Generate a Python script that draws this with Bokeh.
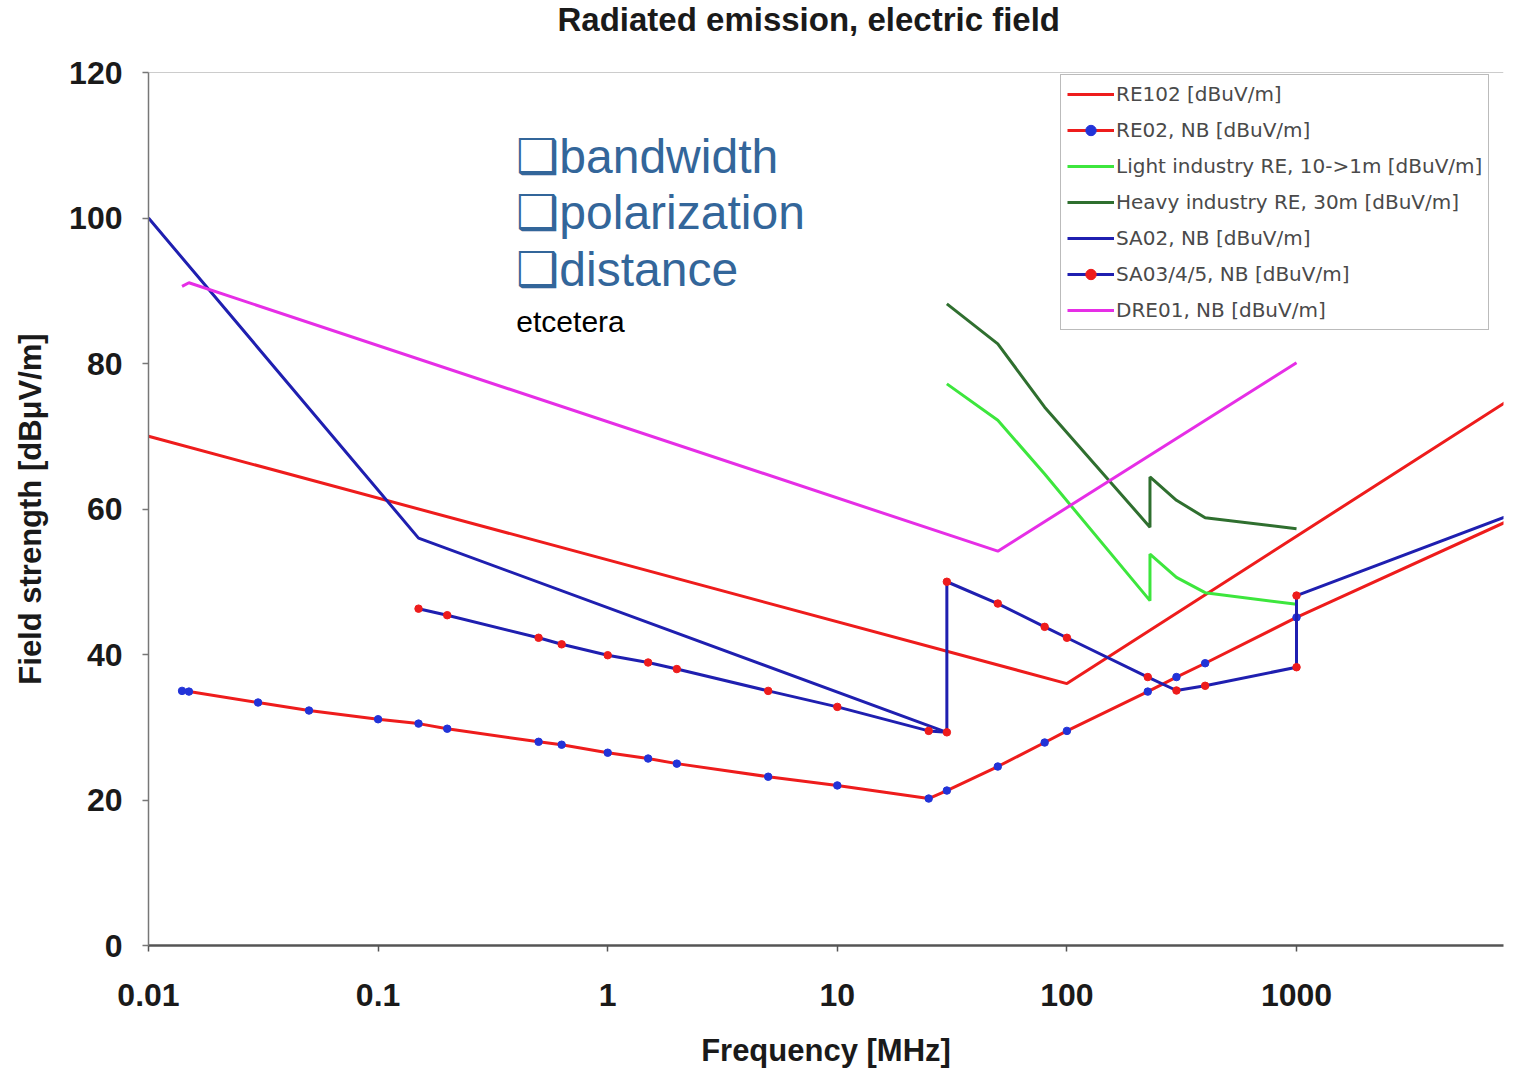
from bokeh.plotting import figure
from bokeh.models import Range1d, FixedTicker, CustomJSTickFormatter, Label, Legend, LegendItem, Span
from bokeh.embed import file_html
from bokeh.resources import INLINE

# ---- data (frequency in MHz, level in dBuV/m) ----
re102_f = [0.01, 100, 10000]
re102_v = [70, 36, 76.5]

re02_f = [0.014, 0.015, 0.03, 0.05, 0.1, 0.15, 0.2, 0.5, 0.63, 1, 1.5, 2, 5, 10, 25,
          30, 50, 80, 100, 225, 300, 400, 1000, 10000]
re02_v = [35.0, 34.9, 33.4, 32.3, 31.1, 30.5, 29.8, 28.0, 27.6, 26.5, 25.7, 25.0, 23.2, 22.0, 20.2,
          21.3, 24.6, 27.9, 29.5, 34.9, 36.9, 38.8, 45.1, 59.5]

light_f = [30, 50, 80, 230, 230, 300, 400, 1000]
light_v = [77.2, 72.2, 64.8, 47.4, 53.8, 50.6, 48.5, 46.9]

heavy_f = [30, 50, 80, 230, 230, 300, 400, 1000]
heavy_v = [88.2, 82.7, 74.0, 57.5, 64.4, 61.2, 58.8, 57.3]

sa02_f = [0.01, 0.15, 30]
sa02_v = [100, 56, 29.3]

sa03_f = [0.15, 0.2, 0.5, 0.63, 1, 1.5, 2, 5, 10, 25, 30,
          30, 50, 80, 100, 225, 300, 400, 1000, 1000, 10000]
sa03_v = [46.3, 45.4, 42.3, 41.4, 39.9, 38.9, 38.0, 35.0, 32.8, 29.5, 29.3,
          50.0, 47.0, 43.8, 42.3, 36.9, 35.05, 35.7, 38.25, 48.1, 60.0]

dre01_f = [0.014, 0.015, 50, 1000]
dre01_v = [90.6, 91.1, 54.2, 80.1]

y_ticks = [0, 20, 40, 60, 80, 100, 120]
x_ticks = [0.01, 0.1, 1, 10, 100, 1000, 10000]

title_text = "Radiated emission, electric field"
notes = ["\u2751bandwidth", "\u2751polarization", "\u2751distance"]

RED = "#EE1C1C"
BLUE = "#1F1FB0"
MBLUE = "#2233D8"
MAG = "#E62EE6"
LGREEN = "#3DE63D"
DGREEN = "#2F6F2F"

p = figure(width=1506, height=1070, x_axis_type="log",
           x_range=Range1d(0.01, 7970), y_range=Range1d(0, 120),
           output_backend="svg", toolbar_location=None,
           min_border_left=148, min_border_right=3, min_border_top=72, min_border_bottom=125,
           title=title_text + "\n ")

p.title.text_font = "Liberation Sans"
p.title.text_font_size = "33px"
p.title.text_font_style = "bold"
p.title.text_color = "#1a1a1a"
p.title.text_line_height = 0.9
p.title.align = "left"
p.title.vertical_align = "top"
p.title.offset = 409
p.title.standoff = 0

p.grid.visible = False
p.outline_line_color = None
p.background_fill_color = "white"
p.border_fill_color = "white"
p.add_layout(Span(location=120, dimension="width", line_color="#999999", line_width=1.2))

# axes
p.xaxis.ticker = FixedTicker(ticks=x_ticks)
p.xaxis.formatter = CustomJSTickFormatter(code="""
const e = Math.round(Math.log10(tick));
return e >= 0 ? String(Math.round(Math.pow(10, e))) : Math.pow(10, e).toFixed(-e);
""")
p.yaxis.ticker = FixedTicker(ticks=y_ticks)
for ax in (p.xaxis[0], p.yaxis[0]):
    ax.minor_tick_line_color = None
    ax.major_tick_out = 6
    ax.major_tick_in = 0
    ax.major_label_text_font = "Liberation Sans"
    ax.major_label_text_font_size = "32px"
    ax.major_label_text_font_style = "bold"
    ax.major_label_text_color = "#1a1a1a"
    ax.axis_label_text_font = "Liberation Sans"
    ax.axis_label_text_font_size = "31px"
    ax.axis_label_text_font_style = "bold"
    ax.axis_label_text_color = "#1a1a1a"
p.xaxis.axis_line_color = "#555555"
p.xaxis.axis_line_width = 2.5
p.xaxis.major_tick_line_color = "#555555"
p.xaxis.major_tick_line_width = 1.5
p.xaxis.major_label_standoff = 32
p.xaxis.axis_label_standoff = 24
p.xaxis.axis_label = "Frequency [MHz]"

p.yaxis.axis_line_color = "#777777"
p.yaxis.axis_line_width = 1.5
p.yaxis.major_tick_line_color = "#777777"
p.yaxis.major_tick_line_width = 1.5
p.yaxis.major_label_standoff = 20
p.yaxis.axis_label_standoff = 18
p.yaxis.axis_label = "Field strength [dB\u03bcV/m]"

LW = 3
r_re102 = p.line(re102_f, re102_v, line_color=RED, line_width=LW)
r_re02 = p.line(re02_f, re02_v, line_color=RED, line_width=LW)
r_re02m = p.scatter(re02_f, re02_v, marker="circle", size=7.5, fill_color=MBLUE, line_color=MBLUE)
r_light = p.line(light_f, light_v, line_color=LGREEN, line_width=LW)
r_heavy = p.line(heavy_f, heavy_v, line_color=DGREEN, line_width=LW)
r_sa02 = p.line(sa02_f, sa02_v, line_color=BLUE, line_width=LW)
r_sa03 = p.line(sa03_f, sa03_v, line_color=BLUE, line_width=LW)
r_sa03m = p.scatter(sa03_f, sa03_v, marker="circle", size=7.5, fill_color=RED, line_color=RED)
r_dre = p.line(dre01_f, dre01_v, line_color=MAG, line_width=LW)

legend = Legend(items=[
    LegendItem(label="RE102 [dBuV/m]", renderers=[r_re102]),
    LegendItem(label="RE02, NB [dBuV/m]", renderers=[r_re02, r_re02m]),
    LegendItem(label="Light industry RE, 10->1m [dBuV/m]", renderers=[r_light]),
    LegendItem(label="Heavy industry RE, 30m [dBuV/m]", renderers=[r_heavy]),
    LegendItem(label="SA02, NB [dBuV/m]", renderers=[r_sa02]),
    LegendItem(label="SA03/4/5, NB [dBuV/m]", renderers=[r_sa03, r_sa03m]),
    LegendItem(label="DRE01, NB [dBuV/m]", renderers=[r_dre]),
], location=(912, 615))
legend.label_text_font = "DejaVu Sans"
legend.label_text_font_size = "20px"
legend.label_text_color = "#4a4a4a"
legend.glyph_width = 47
legend.glyph_height = 26
legend.label_height = 26
legend.spacing = 10
legend.padding = 6
legend.margin = 0
legend.label_standoff = 2
legend.border_line_color = "#777777"
legend.border_line_width = 1.5
legend.background_fill_color = "white"
legend.background_fill_alpha = 1
p.add_layout(legend)

note_y = [108.5, 100.75, 92.9]
for t, yy in zip(notes, note_y):
    p.add_layout(Label(x=0.4, y=yy, text=t, text_font="Liberation Sans", text_font_size="48px",
                       text_color="#33669A", text_baseline="alphabetic"))
p.add_layout(Label(x=0.4, y=85.8, text="etcetera", text_font="Liberation Sans", text_font_size="30px",
                   text_color="black", text_baseline="alphabetic"))

open("out.html", "w").write(file_html(p, INLINE))
